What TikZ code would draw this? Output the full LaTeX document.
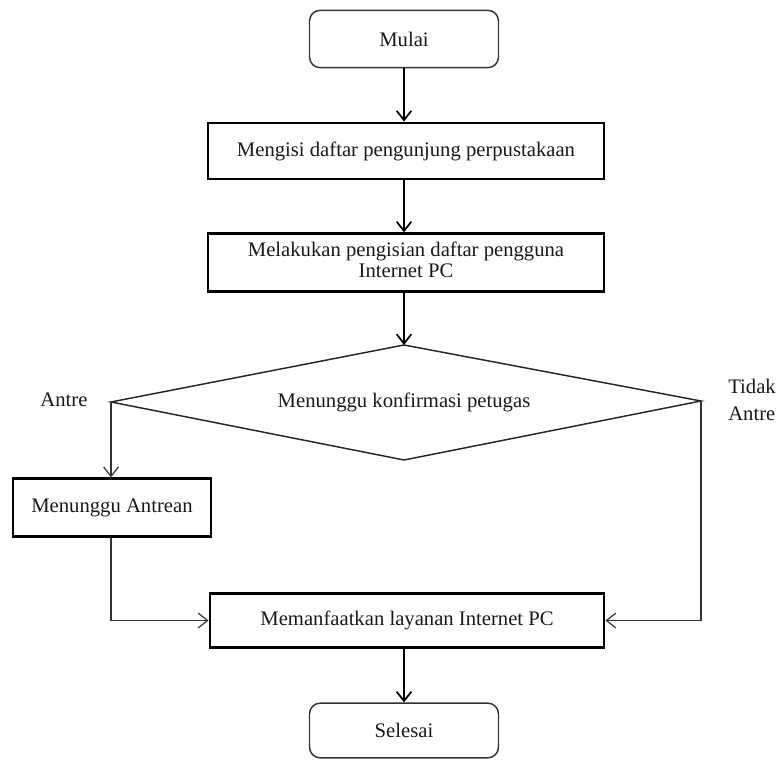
\documentclass[tikz,border=0pt]{standalone}
\usepackage{fontspec}
\setmainfont{Liberation Serif}
\usetikzlibrary{arrows.meta}
\begin{document}
\begin{tikzpicture}[x=0.75pt,y=-0.75pt,
  every node/.style={font=\fontsize{15.5}{16}\selectfont, text=black!90},
  terminal/.style={draw=black!80, line width=1.1pt, rounded corners=8pt,
    minimum width=141.75pt, minimum height=43pt, inner sep=0pt},
  procbox/.style={draw=black, line width=2.2pt, minimum height=42pt,
    inner sep=0pt, align=center},
  flowthick/.style={line width=1.5pt, -{Straight Barb[length=7pt,width=11pt,line width=1.3pt]}},
  flowthin/.style={line width=0.9pt, draw=black!80, -{Straight Barb[length=7pt,width=11pt,line width=0.9pt]}},
  decision/.style={line width=1.1pt, draw=black!85, line join=miter}
]
\useasboundingbox (0,0) rectangle (783,762);

% start / end terminals
\node[terminal] (start) at (404,39) {Mulai};
\node[terminal, minimum height=41pt] (stop) at (404,730.5) {Selesai};

% process boxes
\node[procbox, minimum width=297pt] (fill1) at (406,151) {Mengisi daftar pengunjung perpustakaan};
\node[procbox, minimum width=297pt, minimum height=43pt] (fill2) at (406,262.5) {};
\node[align=center] (fill2text) at (406,259.5) {Melakukan pengisian daftar pengguna\\Internet PC};
\node[procbox, minimum width=148.5pt, minimum height=43pt] (queue) at (112,507.5) {Menunggu Antrean};
\node[procbox, minimum width=295.5pt, minimum height=41pt] (use) at (407,620.5) {Memanfaatkan layanan Internet PC};

% decision diamond
\coordinate (dtop) at (404,345);
\coordinate (dleft) at (111,402);
\coordinate (dright) at (701,401);
\coordinate (dbot) at (404,460);
\draw[decision] (dtop) -- (dright) -- (dbot) -- (dleft) -- cycle;
\node (wait) at (404,402) {Menunggu konfirmasi petugas};

% branch labels
\node (lblq) at (64,400) {Antre};
\node[align=left, anchor=west, inner sep=0pt] (lblnq) at (728,400) {Tidak\\[4pt]Antre};

% main flow
\draw[flowthick] (start.south -| 404,0) -- (404,0 |- fill1.north);
\draw[flowthick] (404,0 |- fill1.south) -- (404,0 |- fill2.north);
\draw[flowthick] (404,0 |- fill2.south) -- (dtop);
\draw[flowthick] (404,0 |- use.south) -- (stop.north);

% branches
\draw[flowthin] (dleft) -- (dleft |- queue.north);
\draw[flowthin] (dleft |- queue.south) |- (use.west);
\draw[flowthin] (dright) |- (use.east);
\end{tikzpicture}
\end{document}
